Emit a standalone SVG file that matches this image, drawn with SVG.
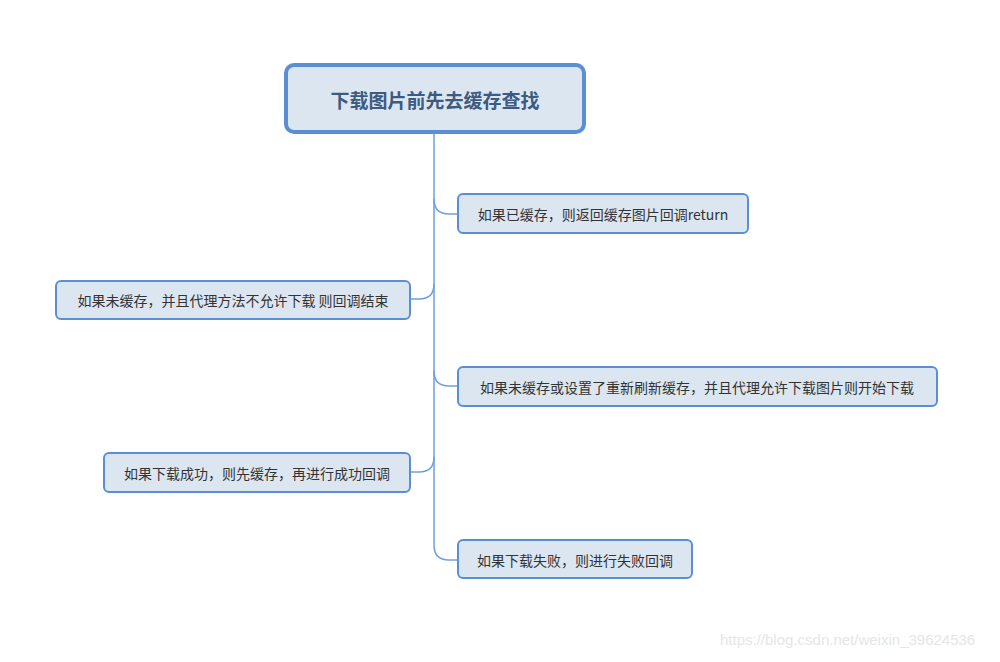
<svg xmlns="http://www.w3.org/2000/svg" width="1000" height="662" viewBox="0 0 1000 662">
<style>
.n{fill:#dce6f1;stroke:#5b8fd4;stroke-width:2}
.t{font-family:"Noto Sans CJK SC","Liberation Sans",sans-serif;font-size:14px;fill:#333;text-anchor:middle;dominant-baseline:central}
.c{fill:none;stroke:#6f9ee0;stroke-width:1.5}
</style>
<rect width="1000" height="662" fill="#fff"/>
<g id="connectors">
<path class="c" d="M434,132 V545"/>
<path class="c" d="M434,199 Q434,214 449,214 H458"/>
<path class="c" d="M434,284 Q434,299 419,299 H410"/>
<path class="c" d="M434,371 Q434,386 449,386 H458"/>
<path class="c" d="M434,457 Q434,472 419,472 H410"/>
<path class="c" d="M434,545 Q434,560 449,560 H458"/>
</g>
<g id="root"><rect x="286" y="65" width="298" height="67" rx="8" fill="#dce6f1" stroke="#5b8fd4" stroke-width="4"/>
<text class="t" x="435" y="99" style="font-size:19px;font-weight:bold;fill:#3d5a80">下载图片前先去缓存查找</text></g>
<g id="n1"><rect class="n" x="458" y="194" width="290" height="39" rx="5"/><text class="t" x="603" y="214">如果已缓存，则返回缓存图片回调return</text></g>
<g id="n2"><rect class="n" x="56" y="281" width="354" height="38" rx="5"/><text class="t" x="233" y="300">如果未缓存，并且代理方法不允许下载 则回调结束</text></g>
<g id="n3"><rect class="n" x="458" y="367" width="479" height="39" rx="5"/><text class="t" x="697" y="387">如果未缓存或设置了重新刷新缓存，并且代理允许下载图片则开始下载</text></g>
<g id="n4"><rect class="n" x="104" y="453" width="306" height="39" rx="5"/><text class="t" x="257" y="473">如果下载成功，则先缓存，再进行成功回调</text></g>
<g id="n5"><rect class="n" x="458" y="540" width="234" height="38" rx="5"/><text class="t" x="575" y="560">如果下载失败，则进行失败回调</text></g>
<text x="720" y="645" style="font-family:'Liberation Sans',sans-serif;font-size:15px;fill:#e6e6e6">https://blog.csdn.net/weixin_39624536</text>
</svg>
